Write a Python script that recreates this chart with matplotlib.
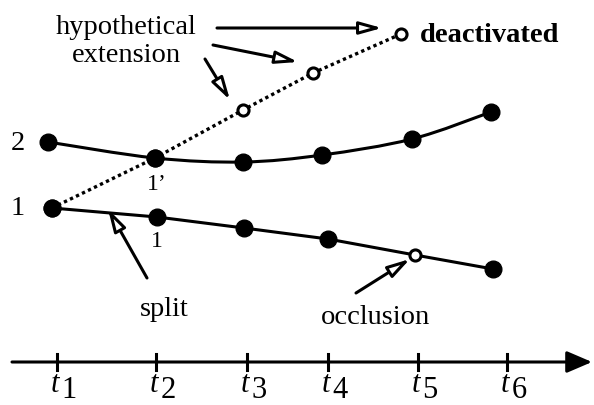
import matplotlib.pyplot as plt
import numpy as np
from matplotlib.path import Path
from matplotlib.patches import PathPatch

plt.rcParams['font.family'] = ['Liberation Serif', 'DejaVu Serif']

# positions (x to the right, y upward, 0..594 x 0..406)
tick_x = [57, 156, 247, 328, 418, 507]
tick_names = ['1', '2', '3', '4', '5', '6']

track2_x = [48, 155, 243, 322, 412, 491]
track2_y = [263, 247, 243, 250, 266, 293]

track1_x = [52, 157, 244, 328, 415, 493]
track1_y = [197, 188, 177, 166, 150, 136]
track1_open = [False, False, False, False, True, False]

ext_x = [52, 155, 243, 313, 401]
ext_y = [197, 247, 295, 332, 371]
ext_open = [False, False, True, True, True]

axis_y = 43


def smooth(xs, ys):
    # Catmull-Rom through the points, as a bezier path
    p = np.column_stack([xs, ys]).astype(float)
    p = np.vstack([p[0], p, p[-1]])
    verts = [p[1]]
    codes = [Path.MOVETO]
    for i in range(1, len(p) - 2):
        c1 = p[i] + (p[i + 1] - p[i - 1]) / 6
        c2 = p[i + 1] - (p[i + 2] - p[i]) / 6
        verts += [c1, c2, p[i + 1]]
        codes += [Path.CURVE4] * 3
    return Path(verts, codes)


fig = plt.figure(figsize=(5.94, 4.06), dpi=100)
ax = fig.add_axes([0, 0, 1, 1])
ax.set_xlim(0, 594)
ax.set_ylim(0, 406)
ax.axis('off')

#轨迹线
ax.add_patch(PathPatch(smooth(track2_x, track2_y), fill=False, lw=2.2, ec='black'))
ax.plot(track1_x, track1_y, color='black', lw=2.2)
ax.plot(ext_x, ext_y, color='black', lw=2.4, ls=(0, (1.0, 1.0)))

ax.plot(track2_x, track2_y, 'o', color='black', ms=12, ls='none')
for xs, ys, op in [(track1_x, track1_y, track1_open), (ext_x, ext_y, ext_open)]:
    for x, y, o in zip(xs, ys, op):
        if o:
            ax.plot(x, y, 'o', mfc='white', mec='black', mew=2.2, ms=8, zorder=5)
        else:
            ax.plot(x, y, 'o', color='black', ms=12, zorder=5)

#时间轴
ax.annotate('', xy=(592, axis_y), xytext=(12, axis_y),
            arrowprops=dict(arrowstyle='-|>,head_length=0.7,head_width=0.3',
                            lw=2.2, color='black', mutation_scale=22,
                            shrinkA=0, shrinkB=0))
for x, n in zip(tick_x, tick_names):
    ax.plot([x, x], [axis_y - 8, axis_y + 8], color='black', lw=2.2)
    ax.text(x - 2, 7, 't', fontsize=22, style='italic', ha='center', va='bottom')
    ax.text(x + 12, 1, n, fontsize=22, ha='center', va='bottom')

#标注
fs = 20.5
ax.text(18, 263, '2', fontsize=fs, ha='center', va='center')
ax.text(18, 197, '1', fontsize=fs, ha='center', va='center')
ax.text(157, 221, "1\u2019", fontsize=17, ha='center', va='center')
ax.text(157, 164, '1', fontsize=17, ha='center', va='center')
ax.text(126, 378, 'hypothetical', fontsize=fs, ha='center', va='center')
ax.text(126, 351, 'extension', fontsize=fs, ha='center', va='center')
ax.text(420, 370, 'deactivated', fontsize=fs, weight='bold', ha='left', va='center')
ax.text(164, 96, 'split', fontsize=fs, ha='center', va='center')
ax.text(376, 88, 'occlusion', fontsize=fs, ha='center', va='center')

arrow = dict(arrowstyle='-|>,head_length=0.9,head_width=0.25', lw=2.2, ec='black',
             fc='white', mutation_scale=15, shrinkA=0, shrinkB=0)
ax.annotate('', xy=(382, 377), xytext=(217, 377), arrowprops=arrow)
ax.annotate('', xy=(298, 343), xytext=(213, 360), arrowprops=arrow)
ax.annotate('', xy=(230, 305), xytext=(205, 346), arrowprops=arrow)
ax.annotate('', xy=(108, 196), xytext=(147, 127), arrowprops=arrow)
ax.annotate('', xy=(410, 146), xytext=(356, 112), arrowprops=arrow)

fig.savefig('out.png', dpi=100)
